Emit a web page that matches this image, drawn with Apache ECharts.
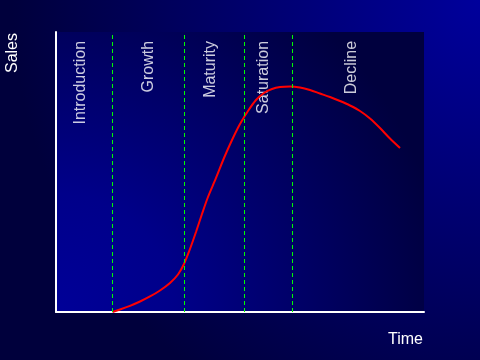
<!DOCTYPE html>
<html><head><meta charset="utf-8">
<script src="https://cdn.jsdelivr.net/npm/echarts@6/dist/echarts.min.js"></script>
<style>html,body{margin:0;padding:0;background:#000040}#c{width:480px;height:360px}</style>
</head><body><div id="c"></div>
<script>
// Sales curve (time, sales), axes 0..100
const timeValues  = [15.35, 17.39, 20.11, 22.83, 25.54, 28.26, 30.98, 33.15, 34.78, 36.41, 38.04, 39.67, 41.30, 43.48, 45.65, 47.83, 50.0, 52.17, 54.35, 56.52, 58.70, 60.87, 63.59, 66.30, 69.02, 71.74, 74.46, 77.17, 79.89, 82.61, 85.33, 88.04, 90.76, 93.48];
const salesValues = [0,     0.89,  2.21,  3.75,  5.54,  7.68,  10.36, 13.39, 17.14, 22.5,  28.57, 35.0,  41.07, 47.86, 55.0,  61.43, 67.14, 71.79, 75.71, 78.21, 79.64, 80.36, 80.54, 80.18, 79.29, 78.04, 76.79, 75.36, 73.75, 71.79, 69.11, 65.71, 61.96, 58.57];
const phaseBoundaries = [15.2, 34.8, 51.1, 64.1];
const phaseNames  = ['Introduction', 'Growth', 'Maturity', 'Saturation', 'Decline'];
const phaseLabelX = [6.8, 25.1, 42.0, 56.3, 80.3];
const phaseLabelY = 96.8;
const xAxisName = 'Time';
const yAxisName = 'Sales';

const FONT = '"Liberation Sans", Arial, sans-serif';
const chart = echarts.init(document.getElementById('c'), null, {renderer: 'canvas'});
const axisCommon = {
  type: 'value', min: 0, max: 100,
  axisLine: {show: true, onZero: false, lineStyle: {color: '#ffffff', width: 2}},
  axisTick: {show: false}, axisLabel: {show: false}, splitLine: {show: false}
};
chart.setOption({
  animation: false,
  backgroundColor: {type: 'radial', x: 1, y: 0, r: 1.3, colorStops: [
    {offset: 0, color: '#00009c'}, {offset: 1, color: '#00003c'}]},
  grid: {left: 56, right: 56, top: 32, bottom: 48, show: true, borderWidth: 0,
    backgroundColor: {type: 'radial', x: 0, y: 1, r: 1.4, colorStops: [
      {offset: 0, color: '#000098'}, {offset: 0.3, color: '#00008a'}, {offset: 1, color: '#00003e'}]}},
  xAxis: axisCommon,
  yAxis: axisCommon,
  graphic: [
    {type: 'text', x: 12.5, y: 33, rotation: Math.PI / 2,
      style: {text: yAxisName, fill: '#ffffff', font: '16px ' + FONT, align: 'right', verticalAlign: 'middle'}},
    {type: 'text', x: 423, y: 340,
      style: {text: xAxisName, fill: '#ffffff', font: '16px ' + FONT, align: 'right', verticalAlign: 'middle'}}
  ],
  series: [
    {
      type: 'line', smooth: 0.3, showSymbol: false, symbol: 'none',
      data: timeValues.map((t, i) => [t, salesValues[i]]),
      lineStyle: {color: '#ff0000', width: 2},
      z: 3,
      markLine: {
        silent: true, symbol: ['none', 'none'], label: {show: false},
        lineStyle: {color: '#00ff00', width: 1, type: [4, 3]},
        data: phaseBoundaries.map(v => ({xAxis: v}))
      }
    },
    {
      type: 'scatter', symbolSize: 0, silent: true,
      data: phaseNames.map((n, i) => ({name: n, value: [phaseLabelX[i], phaseLabelY]})),
      label: {show: true, position: 'inside', rotate: 90, align: 'right', verticalAlign: 'middle',
        color: '#ffffff', fontSize: 16, fontFamily: FONT, formatter: '{b}'}
    }
  ]
});
</script></body></html>
